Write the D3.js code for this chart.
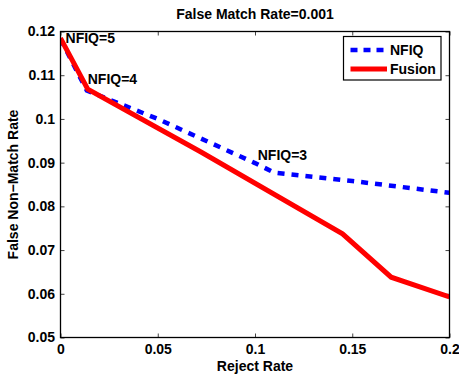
<!DOCTYPE html>
<html>
<head>
<meta charset="utf-8">
<script src="https://cdn.jsdelivr.net/npm/d3@7/dist/d3.min.js"></script>
<style>
  html, body { margin: 0; padding: 0; background: #fff; }
  svg { display: block; }
  text { font-family: "Liberation Sans", Arial, Helvetica, sans-serif; font-weight: bold; fill: #000; }
</style>
</head>
<body>
<svg id="chart" width="459" height="377"></svg>
<script>
// ---- data ----
const title = "False Match Rate=0.001";
const xLabel = "Reject Rate";
const yLabel = "False Non\u2212Match Rate";
const xTicks = [0, 0.05, 0.1, 0.15, 0.2];
const xTickLabels = ["0", "0.05", "0.1", "0.15", "0.2"];
const yTicks = [0.05, 0.06, 0.07, 0.08, 0.09, 0.1, 0.11, 0.12];
const yTickLabels = ["0.05", "0.06", "0.07", "0.08", "0.09", "0.1", "0.11", "0.12"];

const nfiqReject = [0, 0.0135, 0.05, 0.1, 0.11, 0.15, 0.2];
const nfiqFNMR   = [0.1183, 0.1065, 0.1000, 0.0899, 0.0877, 0.0858, 0.0831];
const fusionReject = [0, 0.014, 0.072, 0.145, 0.17, 0.2];
const fusionFNMR   = [0.1185, 0.1068, 0.0925, 0.0737, 0.0638, 0.0593];

const annoText = ["NFIQ=5", "NFIQ=4", "NFIQ=3"];
const annoX = [0.0026, 0.0140, 0.1014];
const annoY = [0.1173, 0.1079, 0.0906];

const seriesNames = ["NFIQ", "Fusion"];

// ---- layout ----
const svg = d3.select("#chart");
const L = 60.5, R = 449.5, T = 31.5, B = 337.5;
const x = d3.scaleLinear().domain([0, 0.2]).range([L, R]);
const y = d3.scaleLinear().domain([0.05, 0.12]).range([B, T]);

svg.append("rect").attr("x", L).attr("y", T).attr("width", R - L).attr("height", B - T).attr("fill", "#fff");

const fs = "14px";
const tickLen = 4;
const xAxisB = svg.append("g").attr("transform", `translate(0,${B})`)
  .call(d3.axisBottom(x).tickValues(xTicks).tickFormat((d, i) => xTickLabels[i]).tickSizeInner(-tickLen).tickSizeOuter(0).tickPadding(7));
const xAxisT = svg.append("g").attr("transform", `translate(0,${T})`)
  .call(d3.axisTop(x).tickValues(xTicks).tickFormat("").tickSizeInner(-tickLen).tickSizeOuter(0));
const yAxisL = svg.append("g").attr("transform", `translate(${L},0)`)
  .call(d3.axisLeft(y).tickValues(yTicks).tickFormat((d, i) => yTickLabels[i]).tickSizeInner(-tickLen).tickSizeOuter(0).tickPadding(5.5));
const yAxisR = svg.append("g").attr("transform", `translate(${R},0)`)
  .call(d3.axisRight(y).tickValues(yTicks).tickFormat("").tickSizeInner(-tickLen).tickSizeOuter(0));

[xAxisB, xAxisT, yAxisL, yAxisR].forEach(g => {
  g.select(".domain").remove();
  g.selectAll(".tick line").attr("stroke", "#444").attr("stroke-width", 1);
  g.selectAll("text").style("font-size", fs).style("font-family", "'Liberation Sans', Arial, sans-serif").style("font-weight", "bold").attr("fill", "#000");
});

// lines
const lineGen = d3.line().x(d => x(d[0])).y(d => y(d[1]));
const nfiqData = nfiqReject.map((v, i) => [v, nfiqFNMR[i]]);
const fusionData = fusionReject.map((v, i) => [v, fusionFNMR[i]]);

svg.append("clipPath").attr("id", "clip").append("rect")
  .attr("x", L).attr("y", T - 3).attr("width", R - L).attr("height", B - T + 3);

const plot = svg.append("g").attr("clip-path", "url(#clip)");
plot.append("path").datum(nfiqData).attr("d", lineGen)
  .attr("fill", "none").attr("stroke", "#0000ff").attr("stroke-width", 4.5)
  .attr("stroke-dasharray", "7,7").attr("stroke-linejoin", "miter");
plot.append("path").datum(fusionData).attr("d", lineGen)
  .attr("fill", "none").attr("stroke", "#ff0000").attr("stroke-width", 5)
  .attr("stroke-linejoin", "miter");

// box
svg.append("rect").attr("x", L).attr("y", T).attr("width", R - L).attr("height", B - T)
  .attr("fill", "none").attr("stroke", "#000").attr("stroke-width", 1.3);

// annotations
annoText.forEach((t, i) => {
  svg.append("text").attr("x", x(annoX[i])).attr("y", y(annoY[i]))
    .style("font-size", fs).text(t);
});

// title and axis labels
svg.append("text").attr("x", (L + R) / 2).attr("y", 18.5).attr("text-anchor", "middle")
  .style("font-size", fs).text(title);
svg.append("text").attr("x", (L + R) / 2).attr("y", 371).attr("text-anchor", "middle")
  .style("font-size", fs).text(xLabel);
svg.append("text").attr("transform", `translate(18,${(T + B) / 2}) rotate(-90)`).attr("text-anchor", "middle")
  .style("font-size", fs).text(yLabel);

// legend
const lg = svg.append("g");
lg.append("rect").attr("x", 343.5).attr("y", 36.5).attr("width", 97.5).attr("height", 43.5)
  .attr("fill", "#fff").attr("stroke", "#000").attr("stroke-width", 1.2);
const legRows = [
  { name: seriesNames[0], color: "#0000ff", dash: "7,6", w: 4.5, yy: 50 },
  { name: seriesNames[1], color: "#ff0000", dash: null, w: 5, yy: 69 }
];
legRows.forEach(r => {
  lg.append("line").attr("x1", 350.5).attr("x2", 387).attr("y1", r.yy).attr("y2", r.yy)
    .attr("stroke", r.color).attr("stroke-width", r.w).attr("stroke-dasharray", r.dash);
  lg.append("text").attr("x", 390).attr("y", r.yy + 5).style("font-size", fs).text(r.name);
});
</script>
</body>
</html>
